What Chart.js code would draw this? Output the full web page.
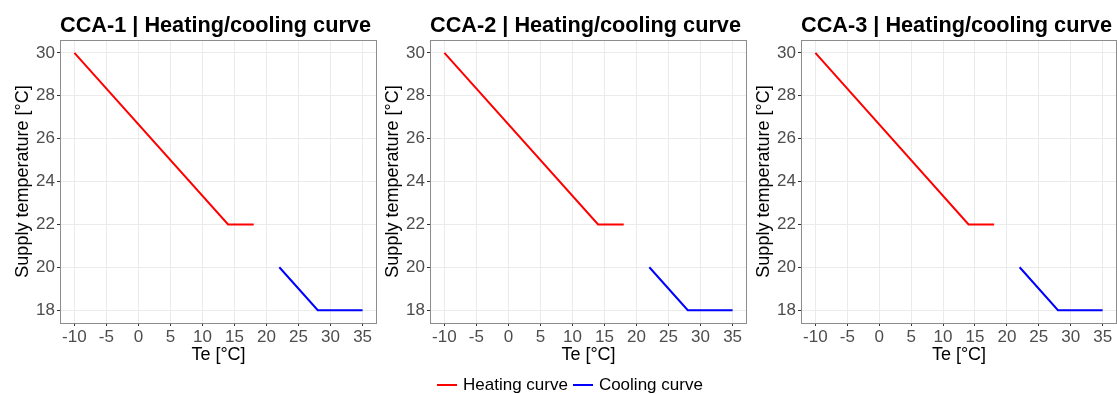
<!DOCTYPE html>
<html>
<head>
<meta charset="utf-8">
<script src="https://cdn.jsdelivr.net/npm/chart.js@4.4.1/dist/chart.umd.min.js"></script>
<style>
  html, body { margin: 0; padding: 0; background: #fff; }
  body { width: 1117px; height: 394px; position: relative; overflow: hidden; font-family: "Liberation Sans", Arial, sans-serif; }
  .panel { position: absolute; top: 0; height: 366px; }
  .legend { position: absolute; top: 375px; left: 437px; display: flex; align-items: center; font-size: 17px; color: #000; white-space: nowrap; }
  .legend .key { display: inline-block; width: 20px; height: 2px; margin-right: 6px; }
  .legend .item { display: flex; align-items: center; margin-right: 5px; }
</style>
</head>
<body>
<div class="panel" style="left:0px;width:377px"><canvas id="c1"></canvas></div>
<div class="panel" style="left:370px;width:377px"><canvas id="c2"></canvas></div>
<div class="panel" style="left:741px;width:376px"><canvas id="c3"></canvas></div>
<div class="legend">
  <span class="item"><span class="key" style="background:#ff0000"></span>Heating curve</span>
  <span class="item"><span class="key" style="background:#0000ff"></span>Cooling curve</span>
</div>
<script>
// Heating/cooling supply temperature curves for each CCA circuit
const panelTitles = ["CCA-1 | Heating/cooling curve", "CCA-2 | Heating/cooling curve", "CCA-3 | Heating/cooling curve"];
const heatingTe = [-10, 14, 18];
const heatingSupply = [30, 22, 22];
const coolingTe = [22, 28, 35];
const coolingSupply = [20, 18, 18];
const xTicks = [-10, -5, 0, 5, 10, 15, 20, 25, 30, 35];
const yTicks = [18, 20, 22, 24, 26, 28, 30];
const canvasIds = ["c1", "c2", "c3"];

const FONT = '"Liberation Sans", Arial, sans-serif';

function toPoints(xs, ys) { return xs.map((x, i) => ({ x: x, y: ys[i] })); }

// Panel frame around the plotting area plus a title aligned to its left edge
const framePlugin = {
  id: 'frame',
  afterDraw(chart, args, opts) {
    const a = chart.chartArea, ctx = chart.ctx;
    ctx.save();
    ctx.strokeStyle = '#8c8c8c';
    ctx.lineWidth = 1;
    ctx.strokeRect(Math.round(a.left) + 0.5, Math.round(a.top) + 0.5, Math.round(a.right - a.left) - 1, Math.round(a.bottom - a.top));
    ctx.fillStyle = '#000';
    ctx.font = 'bold 21.7px ' + FONT;
    ctx.textBaseline = 'alphabetic';
    ctx.textAlign = 'left';
    ctx.fillText(opts.text, a.left, 32);
    ctx.restore();
  }
};

canvasIds.forEach((id, idx) => {
  new Chart(document.getElementById(id), {
    type: 'line',
    data: {
      datasets: [
        { label: 'Heating curve', data: toPoints(heatingTe, heatingSupply), borderColor: '#ff0000', borderWidth: 2, pointRadius: 0, tension: 0, fill: false },
        { label: 'Cooling curve', data: toPoints(coolingTe, coolingSupply), borderColor: '#0000ff', borderWidth: 2, pointRadius: 0, tension: 0, fill: false }
      ]
    },
    options: {
      responsive: true,
      maintainAspectRatio: false,
      animation: false,
      layout: { padding: { top: 40, right: 0, left: 0, bottom: 0 } },
      plugins: {
        legend: { display: false },
        tooltip: { enabled: false },
        frame: { text: panelTitles[idx] }
      },
      scales: {
        x: {
          type: 'linear',
          min: -12.25, max: 37.25,
          afterBuildTicks(scale) { scale.ticks = xTicks.map(v => ({ value: v })); },
          afterFit(scale) { scale.height = 43; },
          border: { display: false },
          grid: { color: '#ebebeb', lineWidth: 1, tickColor: '#333333', tickLength: 3, drawTicks: true },
          ticks: { color: '#4d4d4d', font: { family: FONT, size: 17 }, padding: 1, maxRotation: 0, autoSkip: false },
          title: { display: true, text: 'Te [°C]', color: '#000', font: { family: FONT, size: 18 }, padding: { top: 0, bottom: 0 } }
        },
        y: {
          type: 'linear',
          min: 17.4, max: 30.6,
          afterBuildTicks(scale) { scale.ticks = yTicks.map(v => ({ value: v })); },
          afterFit(scale) { scale.width = 60; },
          border: { display: false },
          grid: { color: '#ebebeb', lineWidth: 1, tickColor: '#333333', tickLength: 3, drawTicks: true },
          ticks: { color: '#4d4d4d', font: { family: FONT, size: 17 }, padding: 2, autoSkip: false },
          title: { display: true, text: 'Supply temperature [°C]', color: '#000', font: { family: FONT, size: 18 }, padding: { top: 12, bottom: 0 } }
        }
      }
    },
    plugins: [framePlugin]
  });
});
</script>
</body>
</html>
